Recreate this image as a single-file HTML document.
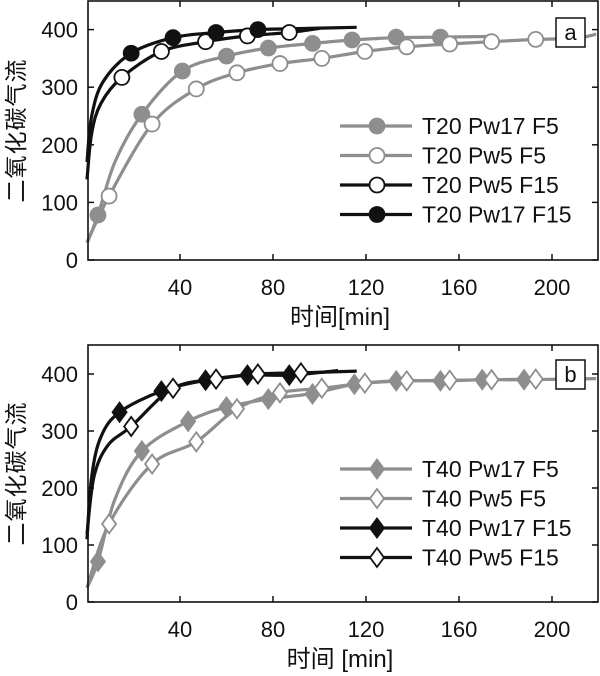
<!DOCTYPE html>
<html><head><meta charset="utf-8">
<style>
html,body{margin:0;padding:0;background:#fff;}
svg{display:block;}
text{font-family:"Liberation Sans","Noto Sans CJK SC",sans-serif;fill:#111;}
</style></head><body>
<svg id="s" width="600" height="676" viewBox="0 0 600 676" xmlns="http://www.w3.org/2000/svg"></svg>
<script>
const NS="http://www.w3.org/2000/svg";
const S=document.getElementById('s');
function el(t,a,txt){const e=document.createElementNS(NS,t);for(const k in a)e.setAttribute(k,a[k]);if(txt!==undefined)e.textContent=txt;S.appendChild(e);return e;}
const G='#8e8e8e',K='#111';
function X(t){return 87+t*2.325;}
function crPath(pts){let d='M'+pts[0][0].toFixed(1)+','+pts[0][1].toFixed(1);
 for(let i=0;i<pts.length-1;i++){const p0=pts[Math.max(0,i-1)],p1=pts[i],p2=pts[i+1],p3=pts[Math.min(pts.length-1,i+2)];
 const c1=[p1[0]+(p2[0]-p0[0])/6,p1[1]+(p2[1]-p0[1])/6],c2=[p2[0]-(p3[0]-p1[0])/6,p2[1]-(p3[1]-p1[1])/6];
 d+=' C'+c1[0].toFixed(1)+','+c1[1].toFixed(1)+' '+c2[0].toFixed(1)+','+c2[1].toFixed(1)+' '+p2[0].toFixed(1)+','+p2[1].toFixed(1);}
 return d;}
function marker(x,y,type,fill,stroke){
 if(type=='c')el('circle',{cx:x,cy:y,r:7.5,fill:fill,stroke:stroke,'stroke-width':1.8});
 else el('path',{d:`M${x},${y-9.5} L${x+7},${y} L${x},${y+9.5} L${x-7},${y} Z`,fill:fill,stroke:stroke,'stroke-width':1.8});
}
function panel(y0,ppu,top,series,leg,legY,lab,labY,xl){
 const Y=v=>y0-v*ppu;
 for(const s of series){
  const pts=s.line.map(p=>[X(p[0]),Y(p[1])]);
  el('path',{d:crPath(pts),fill:'none',stroke:s.c,'stroke-width':3.2,'stroke-linejoin':'round'});
 }
 for(const s of series){for(const m of s.m)marker(X(m[0]),Y(m[1]),s.t,s.f,s.c);}
 el('rect',{x:88,y:top,width:510,height:y0-top,fill:'none',stroke:K,'stroke-width':1.6});
 [40,80,120,160,200].forEach(t=>{const x=X(t);
  el('line',{x1:x,y1:y0,x2:x,y2:y0-6,stroke:K,'stroke-width':1.5});
  el('line',{x1:x,y1:top,x2:x,y2:top+6,stroke:K,'stroke-width':1.5});
  el('text',{x:x,y:y0+35,'text-anchor':'middle','font-size':22},String(t));});
 [0,100,200,300,400].forEach(v=>{const y=Y(v);
  el('line',{x1:88,y1:y,x2:94,y2:y,stroke:K,'stroke-width':1.5});
  el('line',{x1:598,y1:y,x2:592,y2:y,stroke:K,'stroke-width':1.5});
  el('text',{x:78,y:y+8,'text-anchor':'end','font-size':22},String(v));});
 leg.forEach((l,i)=>{const y=legY+i*29.5;
  el('line',{x1:340,y1:y,x2:412,y2:y,stroke:l.c,'stroke-width':3.2});
  marker(377,y,l.t,l.f,l.c);
  el('text',{x:422,y:y+8,'font-size':23},l.n);});
 el('rect',{x:556,y:labY,width:29,height:29,fill:'#fff',stroke:K,'stroke-width':1.5});
 el('text',{x:570.5,y:labY+22,'text-anchor':'middle','font-size':22},lab);
 el('text',{x:340,y:y0+65,'text-anchor':'middle','font-size':24},xl);
 const cy=(top+y0)/2;
 el('text',{x:0,y:0,'text-anchor':'middle','font-size':23,transform:`translate(24,${cy}) rotate(-90)`,'letter-spacing':'1'},'二氧化碳气流');
}
panel(260,0.576,1,[
 {c:G,t:'c',f:G,line:[[0,30],[4.7,78],[12,170],[23.6,253],[41,328],[60,354],[78,368],[97,376],[114,382],[133,386],[152,387],[172,388]],
  m:[[4.7,78],[23.6,253],[41,328],[60,354],[78,368],[97,376],[114,382],[133,387],[152,387]]},
 {c:G,t:'c',f:'#fff',line:[[0,30],[9.5,111],[28,236],[47,297],[64.5,325],[83,341],[101,350],[119.5,362],[137.5,370],[156,375],[174,379],[193,383],[210,385],[219,392]],
  m:[[9.5,111],[28,236],[47,297],[64.5,325],[83,341],[101,350],[119.5,362],[137.5,370],[156,375],[174,379],[193,383]]},
 {c:K,t:'c',f:'#fff',line:[[0,140],[2,220],[6,272],[15,317],[32,362],[51,379],[69,389],[87,395],[100,402]],
  m:[[15,317],[32,362],[51,379],[69,389],[87,395]]},
 {c:K,t:'c',f:K,line:[[0,170],[2,250],[7,310],[19,359],[37,386],[55.5,395],[73.5,400],[95,402],[116,404]],
  m:[[19,359],[37,386],[55.5,395],[73.5,400]]}
],[
 {c:G,t:'c',f:G,n:'T20 Pw17 F5'},{c:G,t:'c',f:'#fff',n:'T20 Pw5 F5'},
 {c:K,t:'c',f:'#fff',n:'T20 Pw5 F15'},{c:K,t:'c',f:K,n:'T20 Pw17 F15'}
],126,'a',18,'时间[min]');
panel(602,0.57,345,[
 {c:G,t:'d',f:G,line:[[0,25],[4.7,71],[12,180],[23.6,265],[43.5,317],[60,342],[78,356],[97,366],[115,382],[133,388],[152,388],[170,390],[188,390],[219,392]],
  m:[[4.7,71],[23.6,265],[43.5,317],[60,342],[78,356],[97,365],[115,382],[133,388],[152,388],[170,390],[188,390]]},
 {c:G,t:'d',f:'#fff',line:[[0,25],[9.5,137],[28,242],[47,281],[64.5,339],[83,367],[101,375],[119.5,384],[137.5,388],[156,389],[174,390],[193,391]],
  m:[[9.5,137],[28,242],[47,281],[64.5,339],[83,367],[101,375],[119.5,384],[137.5,388],[156,389],[174,390],[193,391]]},
 {c:K,t:'d',f:K,line:[[0,110],[2,220],[6,290],[14,333],[32,370],[51,389],[69,398],[87,398],[108,406]],
  m:[[14,333],[32,370],[51,389],[69,398],[87,398]]},
 {c:K,t:'d',f:'#fff',line:[[0,120],[3,220],[9,275],[19,308],[37,375],[55.5,391],[73.5,400],[92,402],[116,405]],
  m:[[19,308],[37,375],[55.5,391],[73.5,400],[92,402]]}
],[
 {c:G,t:'d',f:G,n:'T40 Pw17 F5'},{c:G,t:'d',f:'#fff',n:'T40 Pw5 F5'},
 {c:K,t:'d',f:K,n:'T40 Pw17 F15'},{c:K,t:'d',f:'#fff',n:'T40 Pw5 F15'}
],469,'b',360,'时间 [min]');
</script>
</body></html>
